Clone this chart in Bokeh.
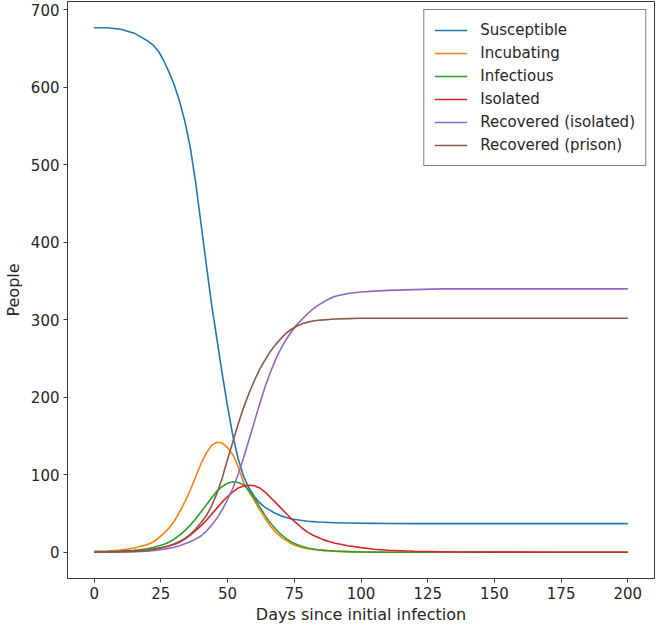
from bokeh.plotting import figure
from bokeh.models import Range1d, FixedTicker, Legend, LegendItem
from bokeh.embed import file_html
from bokeh.resources import INLINE

days = [0, 5, 10, 15,
        20, 22, 24, 26, 28, 30, 32, 34, 36, 38, 40, 42, 44, 46, 48, 50, 52, 54, 56, 58, 60,
        62, 64, 66, 68, 70, 72, 74, 76, 78, 80,
        82, 84, 86, 88, 90,
        95, 100, 105, 110, 120, 130, 140, 150, 175, 200]

susceptible = [677, 677, 675, 670,
               660, 655, 647, 635, 620, 603, 582, 556, 523, 478, 425, 372, 320, 275, 230, 188, 150, 120, 98, 83, 72,
               64, 58, 54, 50, 47, 45, 43, 42, 41, 40,
               39.5, 39, 38.7, 38.4, 38.2,
               37.8, 37.5, 37.3, 37.2, 37, 37, 37, 37, 37, 37]
incubating = [1, 1.5, 3, 5.5,
              10, 13, 18, 24, 31, 40, 52, 65, 80, 97, 114, 128, 138, 142, 141, 135, 126, 110, 90, 78, 67,
              55, 44, 34, 26, 20, 15, 11, 8, 6, 4.5,
              3.7, 3, 2.4, 1.9, 1.5,
              0.8, 0.4, 0.2, 0.1, 0, 0, 0, 0, 0, 0]
infectious = [1, 1, 1.5, 2.5,
              4.5, 6, 8, 10, 13, 17, 22, 28, 35, 43, 52, 61, 70, 79, 85, 89, 91, 90, 87, 80, 70,
              59, 48, 38, 30, 23, 17.5, 13, 10, 7.5, 5.5,
              4.3, 3.3, 2.5, 1.9, 1.4,
              0.8, 0.4, 0.2, 0.1, 0, 0, 0, 0, 0, 0]
isolated = [0, 0.3, 0.8, 1.5,
            3, 4, 5, 6.5, 8, 10, 13, 17, 22, 28, 34, 41, 49, 57, 65, 72, 78, 83, 85.5, 86.5, 86,
            83, 78, 71, 64, 57, 50, 43, 37, 31, 26,
            22, 19, 16, 14, 12,
            8.5, 6, 4, 2.7, 1.3, 0.7, 0.4, 0.2, 0, 0]
recovered_isolated = [0, 0, 0.3, 0.8,
                      1.5, 2, 3, 4, 5, 6.5, 8.5, 11, 13.5, 17, 21, 27, 35, 44, 55, 68, 83, 101, 122, 145, 168,
                      191, 213, 232, 249, 263, 275, 285, 294, 301, 308,
                      314, 319, 323, 327, 330,
                      334, 336, 337, 338, 339, 340, 340, 340, 340, 340]
recovered_prison = [0, 0.2, 0.6, 1.2,
                    2.5, 3.5, 5, 6.5, 8.5, 11, 14, 18, 23, 30, 38, 47, 60, 76, 96, 120, 143, 166, 187, 205, 221,
                    236, 248, 259, 268, 276, 283, 288, 292, 295, 297,
                    298.5, 299.5, 300, 300.5, 301,
                    301.5, 302, 302, 302, 302, 302, 302, 302, 302, 302]

series_names = ["Susceptible", "Incubating", "Infectious", "Isolated",
                "Recovered (isolated)", "Recovered (prison)"]
series_values = [susceptible, incubating, infectious, isolated,
                 recovered_isolated, recovered_prison]
colors = ["#1f77b4", "#ff7f0e", "#2ca02c", "#d62728", "#9467bd", "#8c564b"]

x_ticks = [0, 25, 50, 75, 100, 125, 150, 175, 200]
y_ticks = [0, 100, 200, 300, 400, 500, 600, 700]

FONT = "DejaVu Sans"

p = figure(width=656, height=626, output_backend="svg", toolbar_location=None,
           x_range=Range1d(-10, 210), y_range=Range1d(-33.85, 710.85),
           min_border_top=1, min_border_right=2, min_border_left=2, min_border_bottom=4)

p.background_fill_color = "white"
p.border_fill_color = "white"
p.outline_line_color = "#3a3a3a"
p.outline_line_width = 1
p.xgrid.visible = False
p.ygrid.visible = False

items = []
for name, vals, col in zip(series_names, series_values, colors):
    r = p.line(days, vals, line_color=col, line_width=1.6, line_join="round")
    items.append(LegendItem(label=name, renderers=[r]))

for ax in (p.xaxis[0], p.yaxis[0]):
    ax.axis_line_color = "#3a3a3a"
    ax.major_tick_line_color = "#3a3a3a"
    ax.major_tick_out = 4
    ax.major_tick_in = 0
    ax.minor_tick_line_color = None
    ax.major_label_text_font = FONT
    ax.major_label_text_font_size = "15px"
    ax.major_label_text_color = "#262626"
    ax.axis_label_text_font = FONT
    ax.axis_label_text_font_size = "16px"
    ax.axis_label_text_font_style = "normal"
    ax.axis_label_text_color = "#262626"
    ax.major_label_standoff = 4

p.xaxis.ticker = FixedTicker(ticks=x_ticks)
p.yaxis.ticker = FixedTicker(ticks=y_ticks)
p.xaxis.axis_label = "Days since initial infection"
p.yaxis.axis_label = "People"
p.xaxis.axis_label_standoff = 3
p.yaxis.axis_label_standoff = 5

legend = Legend(items=items, location="top_right")
legend.margin = 8
legend.padding = 10
legend.spacing = 3
legend.glyph_width = 33
legend.glyph_height = 20
legend.label_standoff = 13
legend.label_text_font = FONT
legend.label_text_font_size = "15px"
legend.label_text_color = "#262626"
legend.border_line_color = "black"
legend.border_line_width = 1
legend.background_fill_color = "white"
legend.background_fill_alpha = 1.0
p.add_layout(legend)

open("out.html", "w").write(file_html(p, INLINE))
